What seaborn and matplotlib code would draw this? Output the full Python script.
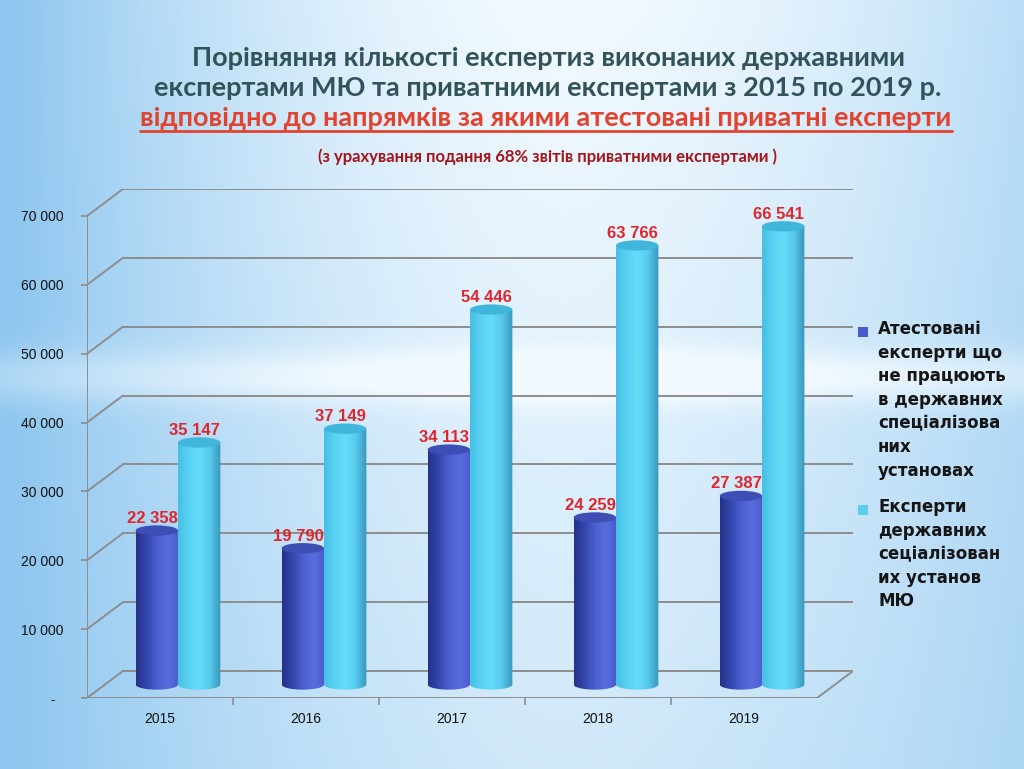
import numpy as np
import pandas as pd
import seaborn as sns
import matplotlib.pyplot as plt
from matplotlib.patches import Ellipse, Rectangle, PathPatch
from matplotlib.path import Path
from matplotlib.colors import LinearSegmentedColormap

# data
years = ['2015', '2016', '2017', '2018', '2019']
certified = [22358, 19790, 34113, 24259, 27387]
state = [35147, 37149, 54446, 63766, 66541]
series_names = ['certified', 'state']
legend_labels = [
    'Атестовані\nексперти що\nне працюють\nв державних\nспеціалізова\nних\nустановах',
    'Експерти\nдержавних\nсеціалізован\nих установ\nМЮ',
]
y_ticks = [0, 10000, 20000, 30000, 40000, 50000, 60000, 70000]
y_tick_labels = ['-  ', '10 000', '20 000', '30 000', '40 000', '50 000', '60 000', '70 000']

title_1 = 'Порівняння кількості експертиз виконаних державними'
title_2 = 'експертами МЮ та приватними експертами з 2015 по 2019 р.'
subtitle = 'відповідно до напрямків за якими атестовані приватні експерти'
note = '(з урахування подання 68% звітів приватними експертами )'

df = pd.DataFrame({
    'year': years * 2,
    'value': certified + state,
    'series': [series_names[0]] * 5 + [series_names[1]] * 5,
})

sns.set_theme(style='white')
plt.rcParams['font.family'] = ['Liberation Sans', 'DejaVu Sans']

W, H = 1024, 769
fig = plt.figure(figsize=(W / 100, H / 100), dpi=100)

# background gradient
bg = fig.add_axes([0, 0, 1, 1], zorder=-10)
gx = np.linspace(0, 1, 256)
gy = np.linspace(0, 1, 200)[:, None]
edge = np.clip(np.abs(gx - 0.55) / 0.55, 0, 1) ** 1.7
edge = np.where(gx < 0.55, edge * 1.05, edge * 0.8)
band = np.exp(-((gy - 0.49) / 0.035) ** 2)
t = np.clip(edge + 0.35 * gy * (1 - edge) - 0.35 * band, 0, 1)
light = np.array([0.95, 0.98, 1.0])
blue = np.array([0.56, 0.78, 0.94])
img = light * (1 - t[..., None]) + blue * t[..., None]
bg.imshow(img, extent=[0, 1, 0, 1], aspect='auto', interpolation='bicubic')
bg.axis('off')

# main axes (front-left corner at pixel 87, 698)
hx = 0.123
hy = 1960
ax = fig.add_axes([87 / W, 71 / H, 766 / W, 509 / H])
ax.set_facecolor('none')

sns.barplot(data=df, x='year', y='value', hue='series', hue_order=series_names,
            palette=['#4a5cc9', '#5ad0f0'], width=0.58, errorbar=None,
            saturation=1, legend=False, ax=ax)

grid_c = '#8d8d8d'
for v in y_ticks:
    ax.plot([-0.5 + hx, 4.5 + hx], [v + hy, v + hy], color=grid_c, lw=1.4, zorder=1)
    ax.plot([-0.5 - hx, -0.5 + hx], [v - hy, v + hy], color=grid_c, lw=1.4, zorder=1)
ax.plot([-0.5 - hx, 4.5 - hx], [-hy, -hy], color=grid_c, lw=1.4, zorder=1)
ax.plot([4.5 - hx, 4.5 + hx], [-hy, hy], color=grid_c, lw=1.4, zorder=1)
ax.plot([-0.5 - hx, -0.5 - hx], [-hy, 70000 - hy], color=grid_c, lw=1.4, zorder=1)

body_maps = [
    LinearSegmentedColormap.from_list('dk', ['#25328a', '#3546ad', '#4d60d0', '#5a6de0', '#4a5bcb']),
    LinearSegmentedColormap.from_list('lt', ['#45bfe4', '#5ad2f4', '#66dcfa', '#56c9ec', '#3896bb']),
]
cap_colors = ['#3e4eb4', '#3fb6da']
eh = 1500

for p in list(ax.patches):
    x0, w, h = p.get_x(), p.get_width(), p.get_height()
    cx = x0 + w / 2
    s = 0 if cx < round(cx) else 1
    p.set_facecolor('none')
    p.set_edgecolor('none')
    z = 3 + s
    ang = np.linspace(np.pi, 2 * np.pi, 40)
    pts = [(x0, h), (x0, 0)] + [(cx + w / 2 * np.cos(a), eh / 2 * np.sin(a)) for a in ang] + [(x0 + w, h), (x0, h)]
    clip = PathPatch(Path(pts), transform=ax.transData, facecolor='none', edgecolor='none')
    ax.add_patch(clip)
    grad = body_maps[s](np.linspace(0, 1, 64))[None, :, :3]
    im = ax.imshow(grad, extent=[x0, x0 + w, -eh / 2, h], aspect='auto',
                   interpolation='bicubic', zorder=z)
    im.set_clip_path(clip)
    ax.add_patch(Ellipse((cx, h), w, eh, facecolor=cap_colors[s], edgecolor='none', zorder=z + 0.5))
    ax.text(cx - 0.03, h + eh * 0.45, f'{int(round(h)):,}'.replace(',', ' '),
            ha='center', va='bottom', fontsize=12, fontweight='bold', color='#e0262c', zorder=10)

ax.set_xlim(-0.5 - hx, 4.5 + hx)
ax.set_ylim(-hy, 70000 + hy)
for sp in ax.spines.values():
    sp.set_visible(False)

ax.set_yticks([v - hy for v in y_ticks], y_tick_labels)
ax.tick_params(axis='y', length=4, color=grid_c, pad=13, labelsize=10, labelcolor='#111111', left=True)
ax.set_xticks([i - hx for i in range(5)], years)
ax.set_xticks([i + 0.5 - hx for i in range(4)], minor=True)
ax.tick_params(axis='x', which='major', length=0, pad=10, labelsize=10, labelcolor='#111111')
ax.tick_params(axis='x', which='minor', length=5, color=grid_c, width=1.2, bottom=True)
ax.set_xlabel('')
ax.set_ylabel('')

# titles
tfam = ['Lato', 'DejaVu Sans']
fig.text(548 / W, 1 - 58 / H, title_1, ha='center', va='center', fontsize=19.5,
         fontweight='bold', color='#325459', family=tfam)
fig.text(548 / W, 1 - 88 / H, title_2, ha='center', va='center', fontsize=19.5,
         fontweight='bold', color='#325459', family=tfam)
sub = fig.text(546 / W, 1 - 118 / H, subtitle, ha='center', va='center', fontsize=19.5,
               fontweight='bold', color='#e2432f', family=tfam)
fig.text(548 / W, 1 - 157 / H, note, ha='center', va='center', fontsize=12,
         fontweight='bold', color='#a3161a', family=tfam)

r = fig.canvas.get_renderer()
bb = sub.get_window_extent(r)
fig.add_artist(plt.Line2D([bb.x0 / W, bb.x1 / W], [(bb.y0 - 1) / H] * 2, color='#e2432f', lw=2))

# legend
leg_colors = ['#4a5cc9', '#5ad0f0']
leg_tops = [320, 498]
for c, lab, top in zip(leg_colors, legend_labels, leg_tops):
    fig.add_artist(Rectangle((858 / W, 1 - (top + 17) / H), 10 / W, 10 / H,
                             facecolor=c, edgecolor='none', transform=fig.transFigure))
    fig.text(878 / W, 1 - top / H, lab, ha='left', va='top', fontsize=12,
             fontweight='bold', color='#151515', family=['DejaVu Sans'], linespacing=1.4)

fig.savefig('out.png', dpi=100)
